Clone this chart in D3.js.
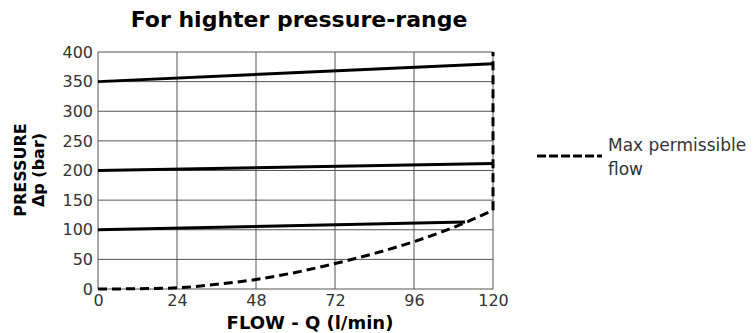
<!DOCTYPE html>
<html lang="en">
<head>
    <meta charset="UTF-8">
    <title>For highter pressure-range</title>
    <script src="https://d3js.org/d3.v7.min.js"></script>
    <style>
        body { margin: 0; padding: 0; background: #fff; font-family: "DejaVu Sans", sans-serif; }
        .grid line { stroke: #555; stroke-width: 1px; }
    </style>
</head>
<body>
    <div id="chart"></div>
    <script>
        // data
        const xTicks = [0, 24, 48, 72, 96, 120];
        const yTicks = [0, 50, 100, 150, 200, 250, 300, 350, 400];

        const line350 = [[0, 350], [120, 380]];
        const line200 = [[0, 200], [120, 212]];
        const line100 = [[0, 100], [111.5, 113]];

        const maxFlow = [[0, 0], [12, 0.5], [24, 2], [36, 8], [48, 16], [60, 28], [72, 43],
                         [84, 60], [96, 80], [108, 104], [112, 113], [120, 133], [120, 400]];

        const width = 753, height = 333;
        const margin = {left: 98, right: 260, top: 52, bottom: 44};

        const svg = d3.select("#chart").append("svg")
            .attr("width", width)
            .attr("height", height);

        const x = d3.scaleLinear().domain([0, 120]).range([margin.left, width - margin.right]);
        const y = d3.scaleLinear().domain([0, 400]).range([height - margin.bottom, margin.top]);

        // grid
        const grid = svg.append("g").attr("class", "grid");
        grid.selectAll(".v").data(xTicks).enter().append("line")
            .attr("x1", d => x(d)).attr("x2", d => x(d))
            .attr("y1", y(0)).attr("y2", y(400));
        grid.selectAll(".h").data(yTicks).enter().append("line")
            .attr("x1", x(0)).attr("x2", x(120))
            .attr("y1", d => y(d)).attr("y2", d => y(d));

        // axes (labels only)
        const xAxis = svg.append("g")
            .attr("transform", `translate(0,${y(0)})`)
            .call(d3.axisBottom(x).tickValues(xTicks).tickSize(0).tickPadding(6));
        xAxis.select(".domain").remove();

        const yAxis = svg.append("g")
            .attr("transform", `translate(${x(0)},0)`)
            .call(d3.axisLeft(y).tickValues(yTicks).tickSize(0).tickPadding(5));
        yAxis.select(".domain").remove();
        svg.selectAll(".tick text")
            .style("font-family", "DejaVu Sans, sans-serif")
            .style("font-size", "16px")
            .style("fill", "#333");

        const lineGen = d3.line().x(d => x(d[0])).y(d => y(d[1]));

        [line350, line200, line100].forEach(s => {
            svg.append("path")
                .attr("d", lineGen(s))
                .attr("fill", "none")
                .attr("stroke", "#000")
                .attr("stroke-width", 3);
        });

        const curveGen = d3.line().x(d => x(d[0])).y(d => y(d[1])).curve(d3.curveMonotoneX);
        svg.append("path")
            .attr("d", curveGen(maxFlow.slice(0, -1)))
            .attr("fill", "none")
            .attr("stroke", "#000")
            .attr("stroke-width", 3)
            .attr("stroke-dasharray", "9,5");
        svg.append("path")
            .attr("d", lineGen(maxFlow.slice(-2)))
            .attr("fill", "none")
            .attr("stroke", "#000")
            .attr("stroke-width", 3)
            .attr("stroke-dasharray", "9,5");

        // title
        svg.append("text")
            .attr("x", 299).attr("y", 27)
            .attr("text-anchor", "middle")
            .style("font-size", "22px").style("font-weight", "bold")
            .text("For highter pressure-range");

        // x label
        svg.append("text")
            .attr("x", 310).attr("y", 329)
            .attr("text-anchor", "middle")
            .style("font-size", "18px").style("font-weight", "bold")
            .text("FLOW - Q (l/min)");

        // y label
        const yl = svg.append("text")
            .attr("transform", "translate(26,170) rotate(-90)")
            .attr("text-anchor", "middle")
            .style("font-size", "16px").style("font-weight", "bold");
        yl.append("tspan").attr("x", 0).attr("dy", 0).text("PRESSURE");
        yl.append("tspan").attr("x", 0).attr("dy", 18).text("Δp (bar)");

        // legend
        svg.append("line")
            .attr("x1", 537).attr("x2", 602)
            .attr("y1", 156).attr("y2", 156)
            .attr("stroke", "#000").attr("stroke-width", 3)
            .attr("stroke-dasharray", "9,3");
        const lg = svg.append("text")
            .attr("x", 608).attr("y", 151)
            .style("font-size", "17px").style("fill", "#333");
        lg.append("tspan").attr("x", 608).text("Max permissible");
        lg.append("tspan").attr("x", 608).attr("dy", 24).text("flow");
    </script>
</body>
</html>
